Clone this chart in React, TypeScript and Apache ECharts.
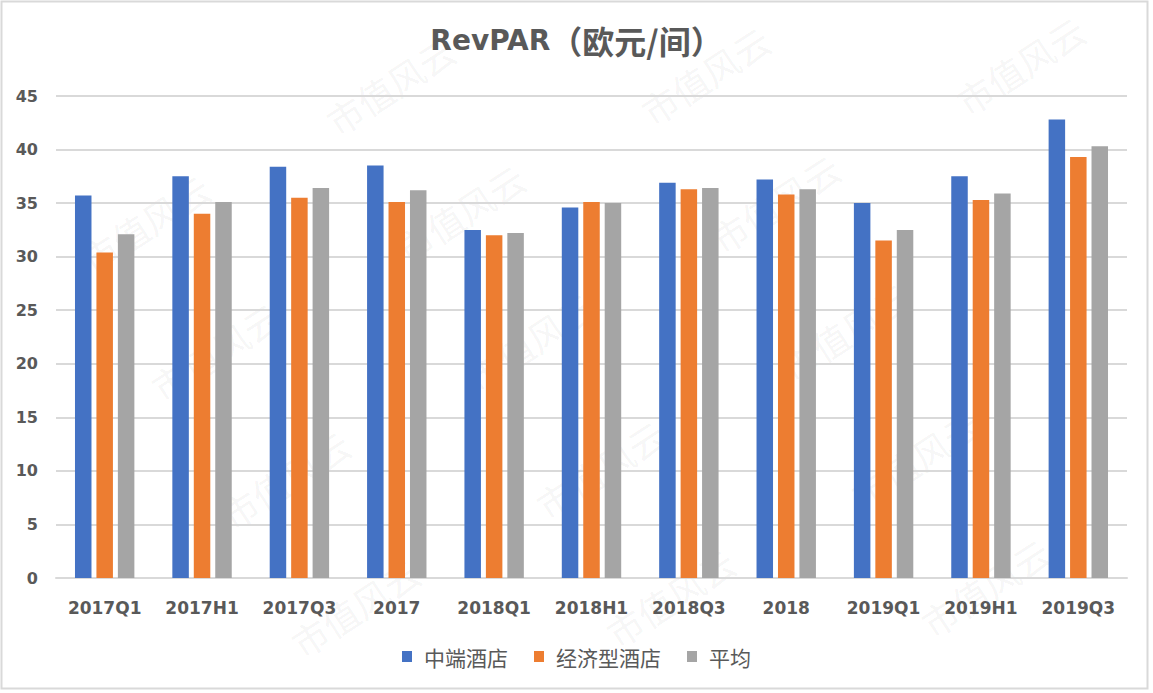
import React, { useEffect, useRef } from "react";
import * as echarts from "echarts";

const categories = ["2017Q1", "2017H1", "2017Q3", "2017", "2018Q1", "2018H1", "2018Q3", "2018", "2019Q1", "2019H1", "2019Q3"];
const seriesNames = ["中端酒店", "经济型酒店", "平均"];
const midscale = [35.7, 37.5, 38.4, 38.5, 32.5, 34.6, 36.9, 37.2, 35.0, 37.5, 42.8];
const economy = [30.4, 34.0, 35.5, 35.1, 32.0, 35.1, 36.3, 35.8, 31.5, 35.3, 39.3];
const average = [32.1, 35.1, 36.4, 36.2, 32.2, 35.0, 36.4, 36.3, 32.5, 35.9, 40.3];
const colors = ["#4472C4", "#ED7D31", "#A5A5A5"];
const titleMain = "RevPAR";
const titleUnit = "（欧元/间）";
const watermarkText = "市值风云";

const W = 1153;
const H = 693;
const TEXT = "#595959";
const LATIN = "'DejaVu Sans', 'Noto Sans CJK SC', sans-serif";
const CJK = "'Noto Sans CJK SC', 'DejaVu Sans', sans-serif";

function buildWatermarks() {
  const els: any[] = [];
  for (let r = -1; r <= 5; r++) {
    for (let c = -2; c <= 3; c++) {
      const x = 75 + 70 * r + 315 * c;
      const y = 95 + 128 * r - 10 * c;
      if (x < 80 || x > W - 80 || y < 62 || y > H - 62) continue;
      els.push({
        type: "text",
        x,
        y,
        rotation: (33 * Math.PI) / 180,
        z: -10,
        silent: true,
        style: {
          text: watermarkText,
          fill: "rgba(0,0,0,0.055)",
          font: "36px 'Noto Sans CJK SC', sans-serif",
          textAlign: "center",
          textVerticalAlign: "middle",
        },
      });
    }
  }
  return els;
}

export default function App() {
  const ref = useRef<HTMLDivElement>(null);

  useEffect(() => {
    document.body.style.margin = "0";
    if (!ref.current) return;
    const chart = echarts.init(ref.current, undefined, { renderer: "svg" });
    const data = [midscale, economy, average];
    chart.setOption({
      animation: false,
      backgroundColor: "#ffffff",
      title: {
        text: `{a|${titleMain}}{b|${titleUnit}}`,
        left: "center",
        top: 24,
        padding: [0, 20, 0, 0],
        textStyle: {
          rich: {
            a: { fontFamily: LATIN, fontWeight: "bold", fontSize: 28, color: TEXT },
            b: { fontFamily: CJK, fontWeight: "bold", fontSize: 32, color: TEXT },
          },
        },
      },
      legend: {
        data: seriesNames,
        bottom: 26,
        left: "center",
        padding: [0, 0, 0, 9],
        icon: "rect",
        itemWidth: 10,
        itemHeight: 11,
        itemGap: 26,
        textStyle: {
          fontFamily: CJK,
          fontSize: 21,
          color: TEXT,
          padding: [0, 0, 0, 7],
        },
      },
      grid: { left: 56, right: 26, top: 96, bottom: 115, containLabel: false },
      xAxis: {
        type: "category",
        data: categories,
        axisTick: { show: false },
        axisLine: { lineStyle: { color: "#d9d9d9", width: 2 } },
        axisLabel: {
          color: TEXT,
          fontFamily: LATIN,
          fontWeight: "bold",
          fontSize: 17,
          margin: 21,
          interval: 0,
        },
      },
      yAxis: {
        type: "value",
        min: 0,
        max: 45,
        interval: 5,
        axisLine: { show: false },
        axisTick: { show: false },
        splitLine: { lineStyle: { color: "#d9d9d9", width: 2 } },
        axisLabel: {
          color: TEXT,
          fontFamily: LATIN,
          fontWeight: "bold",
          fontSize: 16,
          margin: 18,
        },
      },
      series: seriesNames.map((name, i) => ({
        name,
        type: "bar",
        data: data[i],
        barWidth: 16.5,
        barGap: "30%",
        itemStyle: { color: colors[i] },
      })),
      graphic: [
        ...buildWatermarks(),
        {
          type: "rect",
          silent: true,
          z: 100,
          shape: { x: 1.5, y: 1.5, width: 1146, height: 687 },
          style: { fill: "none", stroke: "#d9d9d9", lineWidth: 2 },
        },
      ],
    });
    return () => chart.dispose();
  }, []);

  return (
    <div
      ref={ref}
      style={{ position: "absolute", left: 0, top: 0, width: W, height: H }}
    />
  );
}
